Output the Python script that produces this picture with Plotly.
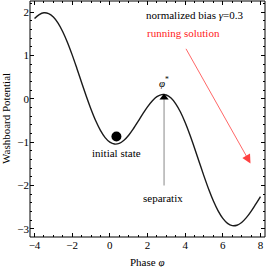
import plotly.graph_objects as go

phi = [-4.0, -3.75, -3.5, -3.25, -3.0, -2.75, -2.5, -2.25, -2.0, -1.75, -1.5, -1.25,
       -1.0, -0.75, -0.5, -0.25, 0.0, 0.25, 0.5, 0.75, 1.0, 1.25, 1.5, 1.75,
       2.0, 2.25, 2.5, 2.75, 3.0, 3.25, 3.5, 3.75, 4.0, 4.25, 4.5, 4.75,
       5.0, 5.25, 5.5, 5.75, 6.0, 6.25, 6.5, 6.75, 7.0, 7.25, 7.5, 7.75, 8.0]
potential = [1.854, 1.946, 1.987, 1.969, 1.890, 1.749, 1.551, 1.303, 1.016, 0.703, 0.379, 0.060,
             -0.240, -0.507, -0.728, -0.894, -1.000, -1.044, -1.028, -0.957, -0.840, -0.690, -0.521, -0.347,
             -0.184, -0.047, 0.051, 0.099, 0.090, 0.019, -0.114, -0.304, -0.546, -0.829, -1.139, -1.463,
             -1.784, -2.087, -2.359, -2.586, -2.760, -2.875, -2.927, -2.918, -2.854, -2.742, -2.597, -2.430, -2.255]

initial_state = [0.35, -0.87]
separatrix_x = [2.88, 2.88]
separatrix_y = [-2.0, 0.0]
separatrix_tip = [2.88, 0.03]
running_arrow = [4.0, 1.19, 7.47, -1.49]  # x0, y0, x1, y1

x_ticks = [-4, -2, 0, 2, 4, 6, 8]
y_ticks = [-3, -2, -1, 0, 1, 2]

FONT = "Liberation Serif, Times New Roman, serif"

fig = go.Figure()
fig.add_trace(go.Scatter(x=phi, y=potential, mode="lines", line=dict(color="#1a1a1a", width=1.4, shape="spline"),
                         showlegend=False, hoverinfo="skip"))
fig.add_trace(go.Scatter(x=separatrix_x, y=separatrix_y, mode="lines", line=dict(color="#b0b0b0", width=1.5),
                         showlegend=False, hoverinfo="skip"))
fig.add_trace(go.Scatter(x=[separatrix_tip[0]], y=[separatrix_tip[1]], mode="markers",
                         marker=dict(symbol="triangle-up", size=8, color="black"),
                         showlegend=False, hoverinfo="skip"))
fig.add_trace(go.Scatter(x=[initial_state[0]], y=[initial_state[1]], mode="markers",
                         marker=dict(size=10, color="black"), showlegend=False, hoverinfo="skip"))

annots = [
    dict(x=0.35, y=-1.24, text="initial state"),
    dict(x=2.8, y=-2.3, text="separatix"),
    dict(x=2.88, y=0.38, text="<i>φ</i><sup>*</sup>"),
    dict(x=4.5, y=1.93, text="normalized bias <i>γ</i>=0.3"),
    dict(x=3.9, y=1.51, text="running solution", font=dict(color="#ff2020", family=FONT, size=11)),
]
for a in annots:
    a.setdefault("font", dict(color="black", family=FONT, size=11))
    fig.add_annotation(xref="x", yref="y", showarrow=False, **a)

fig.add_annotation(x=running_arrow[2], y=running_arrow[3], ax=running_arrow[0], ay=running_arrow[1],
                   xref="x", yref="y", axref="x", ayref="y", text="", showarrow=True,
                   arrowhead=2, arrowsize=2.2, arrowwidth=0.8, arrowcolor="#ff4040")

# axis titles
fig.add_annotation(xref="paper", yref="paper", x=0.5, y=0, yshift=-17, yanchor="top", showarrow=False,
                   text="Phase <i>φ</i>", font=dict(family=FONT, size=11, color="black"))
fig.add_annotation(xref="paper", yref="paper", x=0, y=0.5, xshift=-16, xanchor="right", showarrow=False,
                   textangle=-90, text="Washboard Potential", font=dict(family=FONT, size=11, color="black"))

# frame
fig.add_shape(type="rect", xref="paper", yref="paper", x0=0, y0=0, x1=1, y1=1,
              line=dict(color="black", width=1), layer="above")

axis_common = dict(showline=False, mirror="ticks",
                   ticks="inside", ticklen=4, tickcolor="black", showgrid=False, zeroline=False,
                   tickfont=dict(family=FONT, size=11, color="black"))

fig.update_layout(
    width=267, height=267,
    margin=dict(l=30, r=2, t=1, b=30),
    paper_bgcolor="white", plot_bgcolor="white",
    xaxis=dict(range=[-4.24, 8.24], tickvals=x_ticks, ticktext=["−4", "−2", "0", "2", "4", "6", "8"],
               minor=dict(dtick=0.5, ticks="inside", ticklen=2, tickcolor="black"),
               **axis_common),
    yaxis=dict(range=[-3.19, 2.26], tickvals=y_ticks, ticktext=["−3", "−2", "−1", "0", "1", "2"],
               minor=dict(dtick=0.2, ticks="inside", ticklen=2, tickcolor="black"),
               **axis_common),
)

fig.write_html("out.html", config={"displayModeBar": False},
               post_script="document.body.style.margin='0';document.body.style.overflow='hidden';")
